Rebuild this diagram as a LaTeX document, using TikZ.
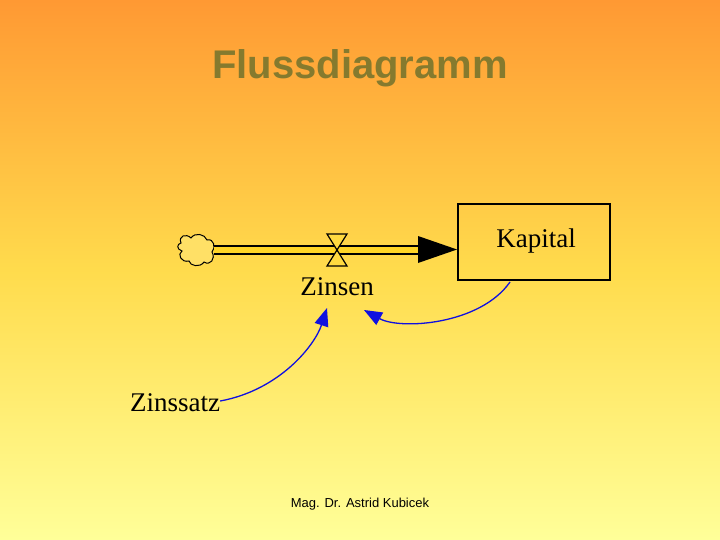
\documentclass[tikz,border=0pt]{standalone}
\usepackage{fontspec}
\setmainfont{Liberation Serif}
\newfontfamily\arial{Liberation Sans}
\usetikzlibrary{arrows.meta}
\definecolor{topc}{HTML}{FF9933}
\definecolor{botc}{HTML}{FFFF99}
\definecolor{titlec}{HTML}{857A2E}
\definecolor{linkc}{HTML}{1010E0}
\tikzset{
  lbl/.style={font=\fontsize{27}{30}\selectfont, inner sep=0pt},
  link/.style={linkc, line width=1.3pt, -{Triangle[length=18pt,width=14pt]}},
}
\begin{document}
\begin{tikzpicture}[x=1pt,y=-1pt]
\shade[top color=topc, bottom color=botc, middle color=orange!40!yellow!70] (0,0) rectangle (720,540);
\useasboundingbox (0,0) rectangle (720,540);
\node (title) at (360,68) {\arial\bfseries\fontsize{40}{44}\selectfont\color{titlec}Flussdiagramm};
\node (foot) at (360,504) {\arial\fontsize{13}{15}\selectfont Mag. Dr. Astrid Kubicek};
% stock
\node (kap) [draw, line width=1.3pt, minimum width=152pt, minimum height=76pt, inner sep=0pt] at (534,242) {};
\node[lbl] (kapt) at (536,241) {Kapital};
% cloud
\node (cloud) at (197,250) {};
\draw[line width=1pt, fill=orange!40!yellow!60] (181,243) .. controls (178,236) and (186,233) .. (191,238)
  .. controls (195,232) and (205,234) .. (207,240) .. controls (214,238) and (216,248) .. (212,252)
  .. controls (216,259) and (210,266) .. (204,262) .. controls (200,268) and (190,266) .. (189,261)
  .. controls (181,263) and (177,254) .. (182,251) .. controls (176,249) and (177,244) .. (181,243) -- cycle;
% pipe
\coordinate (p0) at (214,249.5);
\coordinate (p1) at (420,249.5);
\draw[line width=10pt] (p0) -- (p1);
\draw[line width=6pt, color=orange!40!yellow!85] (p0) -- (p1);
\fill (418,236) -- (457,249.5) -- (418,263) -- cycle;
% valve
\coordinate (valve) at (337,250);
\draw[line width=1.2pt, fill=orange!40!yellow!75] (327,234) -- (347,234) -- (327,266) -- (347,266) -- cycle;
\node[lbl] (zins) at (337,287) {Zinsen};
\node[lbl] (satz) at (175,403) {Zinssatz};
% links
\draw[link] (satz.east) ++(0,-2) .. controls (280,390) and (315,345) .. (327,308);
\draw[link] (510,282) .. controls (480,325) and (400,330) .. (364,310);
\end{tikzpicture}
\end{document}
